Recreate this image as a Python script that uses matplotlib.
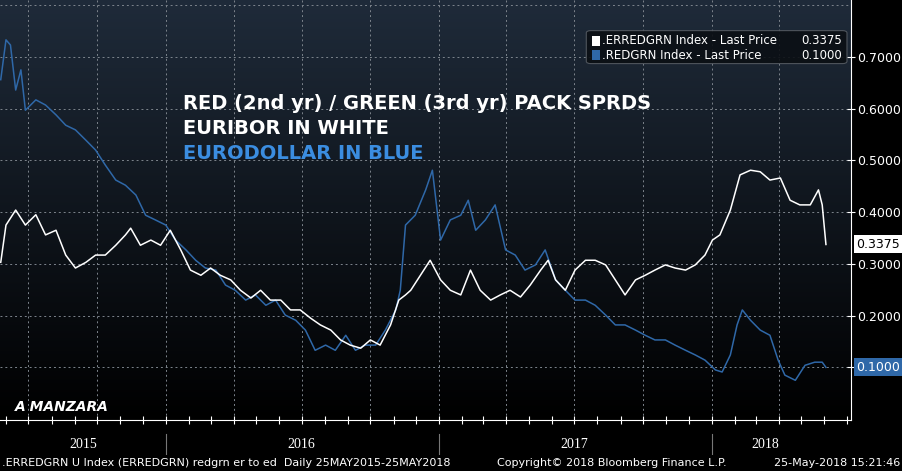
import numpy as np
import pandas as pd
import matplotlib
matplotlib.use("Agg")
import matplotlib.pyplot as plt
import matplotlib.dates as mdates

start = pd.Timestamp("2015-05-25")

# (days since 25 May 2015, value)
eur_pts = [(0,0.303),(7,0.375),(20,0.404),(33,0.375),(47,0.395),(60,0.356),(74,0.365),(87,0.317),
           (100,0.292),(114,0.303),(127,0.317),(140,0.317),(154,0.336),(167,0.356),(174,0.369),
           (187,0.336),(201,0.346),(214,0.336),(227,0.365),(241,0.327),(254,0.288),(268,0.278),
           (281,0.292),(294,0.278),(308,0.269),(321,0.249),(335,0.234),(348,0.249),(361,0.230),
           (375,0.230),(388,0.211),(401,0.211),(415,0.195),(428,0.182),(442,0.172),(455,0.153),
           (468,0.143),(482,0.137),(495,0.153),(508,0.143),(522,0.182),(533,0.230),(542,0.240),
           (549,0.249),(562,0.278),(575,0.307),(589,0.269),(602,0.249),(616,0.240),(629,0.288),
           (642,0.249),(656,0.230),(669,0.240),(682,0.249),(696,0.236),(709,0.259),(723,0.288),
           (733,0.307),(743,0.269),(756,0.249),(769,0.288),(783,0.307),(796,0.307),(810,0.298),
           (823,0.269),(836,0.240),(850,0.269),(863,0.278),(876,0.288),(890,0.298),(903,0.292),
           (917,0.288),(930,0.298),(943,0.317),(953,0.346),(963,0.356),(977,0.404),(990,0.472),
           (1004,0.481),(1017,0.478),(1030,0.462),(1044,0.466),(1057,0.423),(1070,0.414),
           (1084,0.414),(1095,0.443),(1100,0.414),(1105,0.3375)]

usd_pts = [(0,0.656),(7,0.733),(13,0.723),(20,0.636),(27,0.675),(33,0.597),(47,0.617),(60,0.607),
           (74,0.588),(87,0.568),(100,0.559),(114,0.539),(127,0.520),(140,0.491),(154,0.462),
           (167,0.452),(181,0.433),(194,0.394),(207,0.385),(221,0.375),(234,0.346),(248,0.327),
           (261,0.307),(274,0.292),(288,0.288),(301,0.259),(314,0.249),(328,0.230),(341,0.240),
           (355,0.220),(368,0.230),(381,0.201),(395,0.191),(408,0.172),(421,0.133),(435,0.143),
           (448,0.133),(462,0.162),(475,0.133),(488,0.143),(502,0.143),(515,0.172),(529,0.211),
           (535,0.249),(542,0.375),(555,0.394),(569,0.443),(578,0.481),(589,0.346),(602,0.385),
           (616,0.394),(626,0.423),(636,0.365),(649,0.385),(662,0.414),(676,0.327),(689,0.317),
           (702,0.288),(716,0.298),(729,0.327),(743,0.269),(756,0.249),(769,0.230),(783,0.230),
           (796,0.220),(810,0.201),(823,0.182),(836,0.182),(850,0.172),(863,0.162),(876,0.153),
           (890,0.153),(903,0.143),(917,0.133),(930,0.124),(943,0.114),(957,0.095),(966,0.091),
           (977,0.124),(986,0.182),(993,0.211),(1004,0.191),(1017,0.172),(1030,0.162),
           (1041,0.114),(1050,0.085),(1064,0.075),(1077,0.104),(1090,0.110),(1100,0.110),(1105,0.100)]

eur_days, eur_vals = zip(*eur_pts)
usd_days, usd_vals = zip(*usd_pts)
eur_dates = start + pd.to_timedelta(eur_days, unit="D")
usd_dates = start + pd.to_timedelta(usd_days, unit="D")

yticks = [0.1, 0.2, 0.3, 0.4, 0.5, 0.6, 0.7]
blue = "#2f68a8"

fig = plt.figure(figsize=(9.02, 4.71), dpi=100)
fig.patch.set_facecolor("black")
ax = fig.add_axes([0, 0.108, 0.943, 0.892])
x0 = start - pd.Timedelta(days=1)
x1 = start + pd.Timedelta(days=1138)
ax.set_xlim(x0, x1)
ax.set_ylim(-0.002, 0.81)

# gradient background
grad = np.linspace(0, 1, 256).reshape(-1, 1)
cmap = matplotlib.colors.LinearSegmentedColormap.from_list("bg", ["#000000", "#1f2b3a"])
ax.imshow(grad, aspect="auto", cmap=cmap, origin="lower",
          extent=[mdates.date2num(x0), mdates.date2num(x1), -0.002, 0.81], zorder=0)

for y in yticks + [0.8]:
    ax.axhline(y, color="#7d848c", lw=0.7, ls=(0, (2, 3)), zorder=1)
for d in pd.date_range("2015-07-01", "2018-04-01", freq="QS"):
    ax.axvline(d, color="#7d848c", lw=0.7, ls=(0, (2, 3)), zorder=1)

ax.plot(usd_dates, usd_vals, color=blue, lw=1.1, zorder=3)
ax.plot(eur_dates, eur_vals, color="white", lw=1.1, zorder=4)

ax.yaxis.tick_right()
ax.set_yticks(yticks)
ax.set_yticklabels(["%.4f" % v for v in yticks], color="white", fontsize=9)
ax.tick_params(axis="y", direction="inout", length=6, colors="white", pad=2)
ax.set_xticks([])
for s in ["top", "left", "bottom"]:
    ax.spines[s].set_visible(False)
ax.spines["right"].set_color("white")

# last value tags
ax.annotate("0.3375", xy=(1.0, eur_vals[-1]), xycoords=("axes fraction", "data"),
            xytext=(4, 0), textcoords="offset points", va="center", fontsize=9, color="black",
            bbox=dict(boxstyle="square,pad=0.2", fc="white", ec="none"), annotation_clip=False)
ax.annotate("0.1000", xy=(1.0, usd_vals[-1]), xycoords=("axes fraction", "data"),
            xytext=(4, 0), textcoords="offset points", va="center", fontsize=9, color="white",
            bbox=dict(boxstyle="square,pad=0.2", fc=blue, ec="none"), annotation_clip=False)

fig.text(0.203, 0.781, "RED (2nd yr) / GREEN (3rd yr) PACK SPRDS", color="white",
         fontsize=14, fontweight="bold", va="center")
fig.text(0.203, 0.728, "EURIBOR IN WHITE", color="white", fontsize=14, fontweight="bold", va="center")
fig.text(0.203, 0.675, "EURODOLLAR IN BLUE", color="#3b8de0", fontsize=14, fontweight="bold", va="center")
fig.text(0.016, 0.135, "A MANZARA", color="white", fontsize=10, fontweight="bold",
         style="italic", va="center")

# legend box
fig.patches.append(matplotlib.patches.FancyBboxPatch((0.650, 0.865), 0.289, 0.07,
                   boxstyle="round,pad=0,rounding_size=0.005", transform=fig.transFigure,
                   fc="#0b0f14", ec="#555b62", lw=0.8, alpha=0.9))
fig.patches.append(matplotlib.patches.Rectangle((0.656, 0.903), 0.009, 0.02,
                   transform=fig.transFigure, fc="white"))
fig.patches.append(matplotlib.patches.Rectangle((0.656, 0.873), 0.009, 0.02,
                   transform=fig.transFigure, fc=blue))
fig.text(0.667, 0.913, ".ERREDGRN Index - Last Price", color="white", fontsize=8.5, va="center")
fig.text(0.667, 0.883, ".REDGRN Index - Last Price", color="white", fontsize=8.5, va="center")
fig.text(0.933, 0.913, "0.3375", color="white", fontsize=8.5, va="center", ha="right")
fig.text(0.933, 0.883, "0.1000", color="white", fontsize=8.5, va="center", ha="right")

# lower date band
bx = fig.add_axes([0, 0.034, 0.943, 0.074])
bx.set_facecolor("black")
bx.set_xlim(x0, x1)
bx.set_ylim(0, 1)
bx.set_yticks([])
for s in ["left", "right", "bottom"]:
    bx.spines[s].set_visible(False)
bx.spines["top"].set_color("white")
bx.xaxis.set_major_locator(mdates.MonthLocator())
bx.xaxis.set_major_formatter(matplotlib.ticker.NullFormatter())
bx.tick_params(axis="x", direction="inout", length=6, colors="white", top=True, bottom=False)
for d in ["2016-01-01", "2017-01-01", "2018-01-01"]:
    bx.axvline(pd.Timestamp(d), ymin=0, ymax=0.6, color="#777777", lw=0.8)
for lbl, d in [("2015", "2015-09-12"), ("2016", "2016-07-01"), ("2017", "2017-07-01"), ("2018", "2018-03-14")]:
    bx.text(pd.Timestamp(d), 0.3, lbl, color="white", fontsize=10, ha="center", va="center",
            family="Liberation Serif")

fig.text(0.002, 0.017, ".ERREDGRN U Index (ERREDGRN) redgrn er to ed  Daily 25MAY2015-25MAY2018",
         color="white", fontsize=8, va="center")
fig.text(0.551, 0.017, "Copyright\u00a9 2018 Bloomberg Finance L.P.", color="white", fontsize=8, va="center")
fig.text(0.998, 0.017, "25-May-2018 15:21:46", color="white", fontsize=8, va="center", ha="right")

fig.savefig("out.png", dpi=100, facecolor="black")
